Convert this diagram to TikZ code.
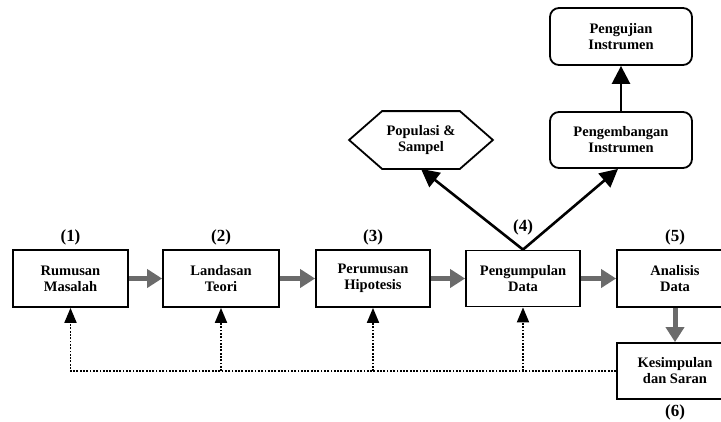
\documentclass[tikz,border=0pt]{standalone}
\usepackage{fontspec}
\setmainfont{Liberation Serif}
\usetikzlibrary{arrows.meta}
\begin{document}
\begin{tikzpicture}[x=1pt,y=-1pt,
  box/.style={draw=black,line width=1.8pt,fill=white,inner sep=0pt,align=center,
    font=\bfseries\fontsize{14.5}{16}\selectfont},
  rbox/.style={box,rounded corners=9pt},
  lbl/.style={font=\bfseries\fontsize{17}{19}\selectfont,inner sep=0pt},
  grayarrow/.style={line width=5pt,draw=black!58,-{Triangle[length=15pt,width=18pt]}},
  blackarrow/.style={line width=2.6pt,draw=black,-{Triangle[length=18pt,width=18pt]}},
  fb/.style={line width=1.9pt,dash pattern=on 1.8pt off 1.5pt},
  fbarrow/.style={fb,-{Triangle[length=15pt,width=12pt]}}
]
\useasboundingbox[fill=white] (0,0) rectangle (721,421);
% main boxes
\node[box,minimum width=115pt,minimum height=57pt] (b1) at (70.5,278.5) {Rumusan\\Masalah};
\node[box,minimum width=116pt,minimum height=57pt] (b2) at (221,278.5) {Landasan\\Teori};
\node[box,minimum width=114pt,minimum height=57pt] (b3) at (373,278.5) {Perumusan\\Hipotesis};
\node[box,minimum width=114pt,minimum height=56pt] (b4) at (523,278.5) {Pengumpulan\\Data};
\node[box,minimum width=116pt,minimum height=57pt] (b5) at (675,278.5) {Analisis\\Data};
\node[box,minimum width=116pt,minimum height=56pt] (b6) at (675,371) {Kesimpulan\\dan Saran};
% labels
\node[lbl] (l1) at (70.5,237) {(1)};
\node[lbl] (l2) at (221,237) {(2)};
\node[lbl] (l3) at (373,237) {(3)};
\node[lbl] (l4) at (523,227) {(4)};
\node[lbl] (l5) at (675,237) {(5)};
\node[lbl] (l6) at (675,412) {(6)};
% top nodes
\node[rbox,minimum width=142pt,minimum height=57pt] (uji) at (621,36.5) {Pengujian\\Instrumen};
\node[rbox,minimum width=142pt,minimum height=56pt] (kem) at (621,140) {Pengembangan\\Instrumen};
\node[box,draw=none,fill=none,minimum width=142pt,minimum height=56pt] (pop) at (421,140) {Populasi \&\\Sampel};
\draw[line width=1.8pt,line join=miter]
  ([xshift=33pt]pop.north west) -- ([xshift=-33pt]pop.north east) -- (pop.east)
  -- ([xshift=-33pt]pop.south east) -- ([xshift=33pt]pop.south west) -- (pop.west) -- cycle;
% gray arrows
\draw[grayarrow] (b1.east) -- (b2.west);
\draw[grayarrow] (b2.east) -- (b3.west);
\draw[grayarrow] (b3.east) -- (b4.west);
\draw[grayarrow] (b4.east) -- (b5.west);
\draw[grayarrow] (b5.south) -- (b6.north);
% black arrows
\draw[blackarrow] (b4.north) -- (pop.south);
\draw[blackarrow] (b4.north) -- ([xshift=-3pt]kem.south);
\draw[blackarrow] (kem.north) -- (uji.south);
% feedback
\draw[fbarrow] (b6.west) -| (b1.south);
\draw[fbarrow] (b2.south |- b6.west) -- (b2.south);
\draw[fbarrow] (b3.south |- b6.west) -- (b3.south);
\draw[fbarrow] (b4.south |- b6.west) -- (b4.south);
\end{tikzpicture}
\end{document}
